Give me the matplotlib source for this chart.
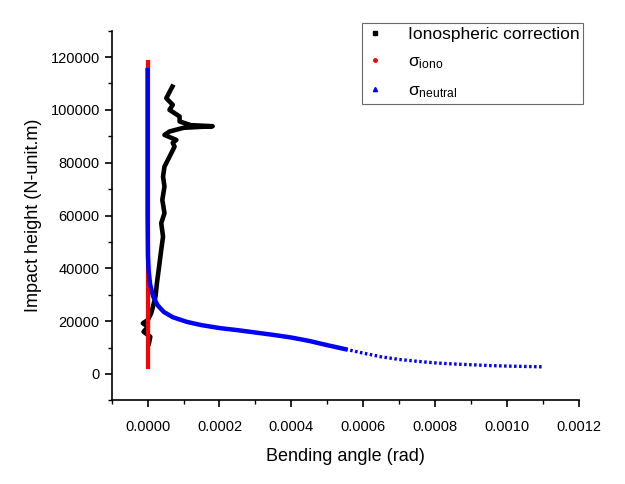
import matplotlib
matplotlib.use('Agg')
import matplotlib.pyplot as plt
from matplotlib.ticker import MultipleLocator, FormatStrFormatter
from matplotlib.lines import Line2D

plt.rcParams['font.family'] = ['Liberation Sans', 'DejaVu Sans']
plt.rcParams['mathtext.fontset'] = 'custom'
plt.rcParams['mathtext.rm'] = 'Liberation Sans'
plt.rcParams['mathtext.it'] = 'Liberation Sans:italic'

# Ionospheric correction (bending angle, impact height)
iono_corr_x = [3.6e-6, 7.5e-6, -1.1e-5, 1e-6, -1.3e-5, 1e-6, 1.0e-5, 1.5e-5, 2.2e-5,
               2.6e-5, 3.2e-5, 3.8e-5, 4.3e-5, 3.8e-5, 4.7e-5, 4.1e-5, 4.7e-5,
               4.3e-5, 4.7e-5, 6.6e-5, 7.5e-5, 7.0e-5, 8.0e-5, 4.7e-5, 6.1e-5,
               1.0e-4, 1.4e-4, 1.81e-4, 1.2e-4, 8.9e-5, 8.9e-5, 6.1e-5, 7.0e-5,
               5.2e-5, 6.9e-5]
iono_corr_y = [11500, 14100, 16000, 17900, 19200, 20500, 23000, 25500, 29300,
               34400, 40600, 47000, 52000, 57100, 60900, 65900, 71000,
               74700, 78500, 83600, 86100, 87500, 88600, 90500, 91800,
               93200, 93500, 93800, 94200, 95600, 97500, 100000, 101900,
               104400, 108800]

# sigma iono
sigma_iono_x = [0.0, 0.0, 0.0, 0.0, 0.0, 0.0, 0.0]
sigma_iono_y = [2600, 20000, 40000, 60000, 80000, 100000, 118000]

# sigma neutral
sigma_neut_x = [0.0, 0.0, 0.0, 1e-6, 3e-6, 7e-6, 1.5e-5, 2.8e-5, 4.5e-5, 7e-5,
                1.1e-4, 1.5e-4, 2.0e-4, 2.5e-4, 3.0e-4, 3.5e-4, 4.0e-4, 4.5e-4,
                5.0e-4, 5.5e-4, 6.0e-4, 6.5e-4, 7.0e-4, 7.5e-4, 8.0e-4, 8.5e-4,
                9.0e-4, 9.5e-4, 1.0e-3, 1.05e-3, 1.1e-3]
sigma_neut_y = [115000, 90000, 60000, 45000, 39000, 34000, 29500, 26000, 23500,
                21500, 19700, 18500, 17400, 16600, 15700, 14800, 13800, 12500,
                10900, 9400, 7900, 6500, 5500, 4800, 4200, 3800, 3500, 3200,
                3000, 2850, 2700]

fig = plt.figure(figsize=(6.25, 4.84), dpi=100)
ax = fig.add_axes([0.1786, 0.1727, 0.7478, 0.7641])

ax.plot(iono_corr_x, iono_corr_y, color='black', lw=3.3, solid_joinstyle='round')
ax.plot(sigma_iono_x, sigma_iono_y, color='red', lw=3)

# dense part as a solid band, sparse tail as separated markers
split = sigma_neut_x.index(5.5e-4)
ax.plot(sigma_neut_x[:split + 1], sigma_neut_y[:split + 1], color='blue', lw=3.2)
ax.plot(sigma_neut_x[split:], sigma_neut_y[split:], color='blue', lw=2.4,
        linestyle=(0, (0.75, 0.75)))

handles = [
    Line2D([], [], ls='none', marker='s', color='black', ms=2.5),
    Line2D([], [], ls='none', marker='o', color='red', ms=2.5),
    Line2D([], [], ls='none', marker='^', color='blue', ms=3),
]
labels = ['Ionospheric correction', r'σ$_{\mathrm{iono}}$', r'σ$_{\mathrm{neutral}}$']
leg = ax.legend(handles, labels, loc='upper right', bbox_to_anchor=(1.0086, 1.0205),
                fontsize=12.5, frameon=True, fancybox=False, edgecolor='#444444',
                handlelength=1.0, handletextpad=1.4, labelspacing=0.7,
                borderpad=0.22, borderaxespad=0.0)
leg.get_frame().set_linewidth(0.8)

ax.set_xlim(-0.0001, 0.0012)
ax.set_ylim(-10000, 130000)
ax.xaxis.set_major_locator(MultipleLocator(0.0002))
ax.xaxis.set_minor_locator(MultipleLocator(0.0001))
ax.xaxis.set_major_formatter(FormatStrFormatter('%.4f'))
ax.yaxis.set_major_locator(MultipleLocator(20000))
ax.yaxis.set_minor_locator(MultipleLocator(10000))

ax.spines['top'].set_visible(False)
ax.spines['right'].set_visible(False)
for s in ['left', 'bottom']:
    ax.spines[s].set_linewidth(1.2)
ax.tick_params(which='major', direction='out', length=5, width=1.2, labelsize=10.5)
ax.tick_params(axis='x', which='major', pad=9)
ax.tick_params(which='minor', direction='out', length=3, width=1.0)

ax.set_xlabel('Bending angle (rad)', fontsize=13, labelpad=10)
ax.set_ylabel('Impact height (N-unit.m)', fontsize=13, labelpad=6)

fig.savefig('out.png', dpi=100)
